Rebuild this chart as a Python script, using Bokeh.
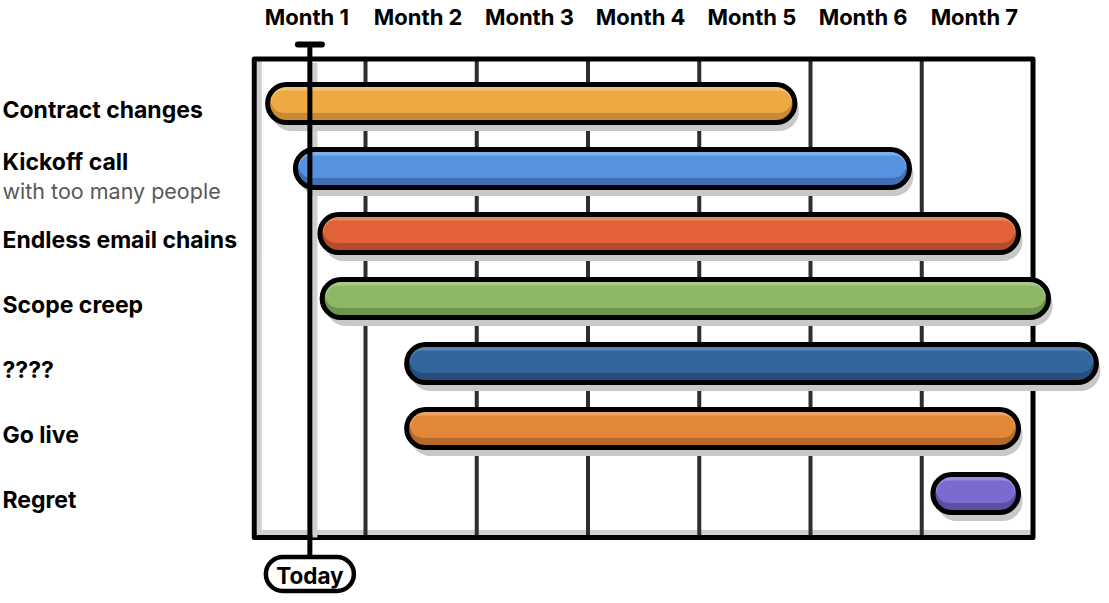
from bokeh.plotting import figure
from bokeh.models import Range1d, ColumnDataSource
from bokeh.embed import file_html
from bokeh.resources import INLINE
from bokeh.core.properties import value

# ---------------- data ----------------
tasks = ["Contract changes", "Kickoff call", "Endless email chains", "Scope creep",
         "????", "Go live", "Regret"]
subtitles = ["", "with too many people", "", "", "", "", ""]
starts = [0.12, 0.37, 0.59, 0.61, 1.37, 1.37, 6.10]
ends = [4.86, 5.89, 6.87, 7.14, 7.57, 6.87, 6.87]
main_colors = ["#EEAA42", "#5593E0", "#E06236", "#8DB866", "#33659E", "#E28637", "#7D6AD0"]
light_colors = ["#F3C275", "#80AEEA", "#E9885F", "#A9CB88", "#5A84B5", "#EBA468", "#9C8DDD"]
dark_colors = ["#C98A30", "#3F70B5", "#B84C2A", "#6E944E", "#264D7C", "#B8692A", "#5E4FA5"]
months = ["Month 1", "Month 2", "Month 3", "Month 4", "Month 5", "Month 6", "Month 7"]
today = 0.5
today_label = "Today"

# ---------------- layout (pixels) ----------------
W, H = 1109, 603
X0_PX, X_PX = 253.75, 111.25   # pixel of month 0 boundary, pixels per month
Y0_PX, Y_PX = 103.0, 65.0      # pixel of first row centre, pixels per row


def dx(px):
    return px / X_PX


def dy(px):
    return px / Y_PX


def ypix(py):
    return (py - Y0_PX) / Y_PX


FONT = value("Inter")
n_months = len(months)
rows = list(range(len(tasks)))
frame_top, frame_bottom = ypix(58.5), ypix(537)

p = figure(width=W, height=H,
           x_range=Range1d(-X0_PX / X_PX, (W - X0_PX) / X_PX),
           y_range=Range1d((H - Y0_PX) / Y_PX, -Y0_PX / Y_PX),
           output_backend="svg", toolbar_location=None,
           x_axis_location=None, y_axis_location=None, min_border=0)
p.outline_line_color = None
p.xgrid.visible = False
p.ygrid.visible = False
p.background_fill_color = "white"
p.border_fill_color = "white"

# frame inner shadows
p.segment(x0=[dx(5)], y0=[frame_top], x1=[dx(5)], y1=[frame_bottom],
          line_color="#cfcfcf", line_width=5)
p.segment(x0=[0], y0=[frame_bottom - dy(5)], x1=[n_months], y1=[frame_bottom - dy(5)],
          line_color="#cfcfcf", line_width=5)

# month grid lines
grid_x = list(range(1, n_months))
p.segment(x0=grid_x, y0=[frame_top] * len(grid_x), x1=grid_x, y1=[frame_bottom] * len(grid_x),
          line_color="#2e2e2e", line_width=4)

# frame
p.quad(left=[0], right=[n_months], top=[frame_top], bottom=[frame_bottom],
       fill_color=None, line_color="black", line_width=5, line_join="round")

# today line shadow
p.segment(x0=[today + dx(5)], y0=[frame_top + dy(4)], x1=[today + dx(5)], y1=[frame_bottom],
          line_color="#cfcfcf", line_width=5)

# bars
src = ColumnDataSource(dict(
    y=rows, left=starts, right=ends, main=main_colors, light=light_colors, dark=dark_colors,
    ys=[r + dy(7) for r in rows], ls=[s + dx(4) for s in starts], rs=[e + dx(4) for e in ends],
    yb=[r - dy(5) for r in rows], lb=[s + dx(3) for s in starts], rb=[e - dx(3) for e in ends],
    yc=[r - dy(2) for r in rows], lc=[s + dx(4) for s in starts], rc=[e - dx(4) for e in ends],
))
p.hbar(y="ys", left="ls", right="rs", height=dy(41), source=src,
       fill_color="#c8c8c8", line_color=None, border_radius=20)
p.hbar(y="y", left="left", right="right", height=dy(38), source=src,
       fill_color="dark", line_color=None, border_radius=19)
p.hbar(y="yb", left="lb", right="rb", height=dy(28), source=src,
       fill_color="light", line_color=None, border_radius=14)
p.hbar(y="yc", left="lc", right="rc", height=dy(22), source=src,
       fill_color="main", line_color=None, border_radius=11)
p.hbar(y="y", left="left", right="right", height=dy(38), source=src,
       fill_color=None, line_color="black", line_width=5, border_radius=19)

# today marker
cap_y = ypix(44)
pill_y = ypix(573.5)
p.segment(x0=[today], y0=[cap_y], x1=[today], y1=[pill_y], line_color="black", line_width=5)
p.segment(x0=[today - dx(12)], y0=[cap_y], x1=[today + dx(12)], y1=[cap_y],
          line_color="black", line_width=6, line_cap="round")
p.hbar(y=[pill_y], left=[today - dx(44)], right=[today + dx(44)], height=dy(34),
       fill_color="white", line_color="black", line_width=4.5, border_radius=17)
p.text(x=[today], y=[pill_y + dy(1)], text=[today_label], text_font=FONT,
       text_font_style="bold", text_font_size="22.5px", text_align="center",
       text_baseline="middle", text_color="black")

# month labels
p.text(x=[i + 0.5 - dx(3) for i in range(n_months)], y=[ypix(16)] * n_months, text=months,
       text_font=FONT, text_font_style="bold", text_font_size="22px",
       text_align="center", text_baseline="middle", text_color="black")

# row labels
label_x = -X0_PX / X_PX + dx(2)
label_y = [r - dy(7) if subtitles[r] else r + dy(6) for r in rows]
p.text(x=[label_x] * len(tasks), y=label_y, text=tasks, text_font=FONT,
       text_font_style="bold", text_font_size="23px", text_align="left",
       text_baseline="middle", text_color="black")
sub_rows = [r for r in rows if subtitles[r]]
p.text(x=[label_x] * len(sub_rows), y=[r + dy(22) for r in sub_rows],
       text=[subtitles[r] for r in sub_rows], text_font=FONT, text_font_style="normal",
       text_font_size="21.5px", text_align="left", text_baseline="middle", text_color="#595959")

open("out.html", "w").write(file_html(p, INLINE))
